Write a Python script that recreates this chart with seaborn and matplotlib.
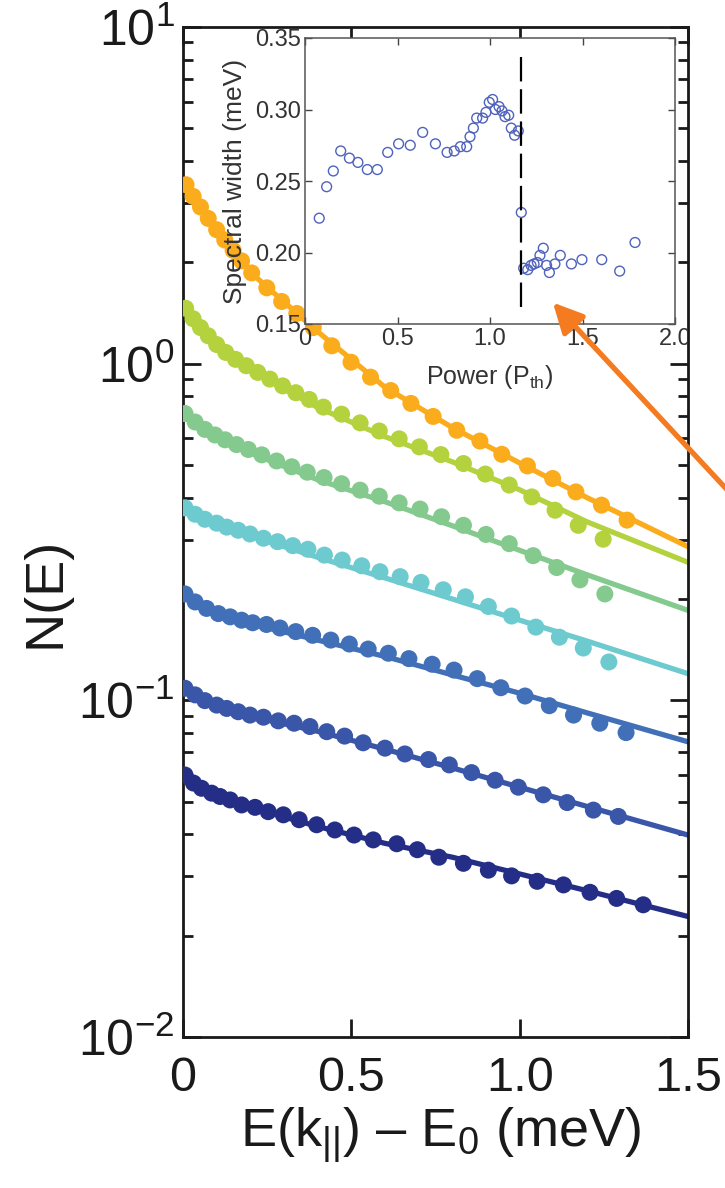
import numpy as np
import pandas as pd
import matplotlib
matplotlib.use("Agg")
import matplotlib.pyplot as plt
import seaborn as sns
from matplotlib.ticker import LogLocator, FixedLocator, FixedFormatter, NullFormatter

sns.set_theme(style="ticks")
plt.rcParams["font.family"] = ["Liberation Sans", "DejaVu Sans"]
plt.rcParams["mathtext.fontset"] = "custom"
plt.rcParams["mathtext.default"] = "regular"

# ---------------- main panel: occupation N(E) for increasing pump power ----------------
E_FIT = [0.0, 0.05, 0.1, 0.2, 0.4, 0.6, 0.8, 1.0, 1.2, 1.5]

orange_E = [0.009, 0.030, 0.052, 0.075, 0.100, 0.124, 0.149, 0.174, 0.204, 0.249, 0.293, 0.338, 0.387, 0.442,
            0.499, 0.557, 0.617, 0.677, 0.743, 0.813, 0.882, 0.947, 1.023, 1.098, 1.167, 1.243, 1.319]
orange_N = [3.40, 3.14, 2.92, 2.70, 2.50, 2.33, 2.17, 2.02, 1.86, 1.68, 1.53, 1.41, 1.28, 1.13,
            1.01, 0.912, 0.832, 0.762, 0.697, 0.634, 0.589, 0.538, 0.497, 0.456, 0.416, 0.380, 0.343]
orange_fit = [3.55, 2.95, 2.51, 1.87, 1.245, 0.851, 0.646, 0.507, 0.400, 0.286]

lime_E = [0.008, 0.030, 0.052, 0.075, 0.100, 0.127, 0.156, 0.188, 0.222, 0.258, 0.296, 0.335, 0.375, 0.417,
          0.471, 0.526, 0.583, 0.642, 0.702, 0.766, 0.833, 0.898, 0.969, 1.036, 1.105, 1.174, 1.248]
lime_N = [1.46, 1.36, 1.28, 1.21, 1.14, 1.08, 1.03, 0.986, 0.942, 0.900, 0.859, 0.820, 0.783, 0.743,
          0.708, 0.667, 0.631, 0.598, 0.566, 0.537, 0.505, 0.470, 0.436, 0.402, 0.367, 0.331, 0.301]
lime_fit = [1.48, 1.29, 1.135, 0.955, 0.741, 0.607, 0.511, 0.422, 0.339, 0.257]

green_E = [0.006, 0.036, 0.065, 0.095, 0.125, 0.159, 0.194, 0.234, 0.278, 0.323, 0.369, 0.419, 0.471,
           0.526, 0.583, 0.642, 0.704, 0.768, 0.833, 0.900, 0.969, 1.040, 1.110, 1.179, 1.253]
green_N = [0.711, 0.671, 0.638, 0.614, 0.594, 0.575, 0.556, 0.536, 0.514, 0.494, 0.476, 0.459, 0.440,
           0.421, 0.404, 0.386, 0.370, 0.351, 0.331, 0.311, 0.292, 0.269, 0.248, 0.228, 0.207]
green_fit = [0.719, 0.661, 0.617, 0.543, 0.452, 0.389, 0.330, 0.279, 0.236, 0.185]

cyan_E = [0.006, 0.036, 0.065, 0.100, 0.130, 0.164, 0.199, 0.239, 0.281, 0.326, 0.371, 0.420, 0.473,
          0.531, 0.585, 0.645, 0.707, 0.773, 0.839, 0.907, 0.976, 1.048, 1.118, 1.189, 1.265]
cyan_N = [0.373, 0.357, 0.345, 0.336, 0.327, 0.320, 0.312, 0.303, 0.296, 0.288, 0.281, 0.270, 0.261,
          0.251, 0.241, 0.233, 0.224, 0.213, 0.203, 0.190, 0.178, 0.165, 0.154, 0.143, 0.130]
cyan_fit = [0.372, 0.345, 0.331, 0.308, 0.266, 0.231, 0.200, 0.173, 0.150, 0.120]

blue_E = [0.006, 0.036, 0.070, 0.105, 0.140, 0.174, 0.207, 0.248, 0.288, 0.335, 0.385, 0.439, 0.494,
          0.550, 0.610, 0.671, 0.740, 0.805, 0.874, 0.944, 1.016, 1.088, 1.160, 1.238, 1.316]
blue_N = [0.207, 0.196, 0.1875, 0.181, 0.177, 0.173, 0.170, 0.168, 0.164, 0.160, 0.156, 0.151, 0.147,
          0.142, 0.138, 0.133, 0.128, 0.123, 0.116, 0.109, 0.103, 0.0964, 0.0904, 0.0855, 0.0802]
blue_fit = [0.209, 0.193, 0.183, 0.169, 0.151, 0.135, 0.119, 0.105, 0.0918, 0.0753]

indigo_E = [0.006, 0.036, 0.065, 0.100, 0.130, 0.164, 0.199, 0.239, 0.283, 0.330, 0.377, 0.427, 0.480,
            0.535, 0.600, 0.659, 0.729, 0.791, 0.857, 0.927, 0.996, 1.070, 1.141, 1.219, 1.293]
indigo_N = [0.1086, 0.1038, 0.0998, 0.0968, 0.0946, 0.0925, 0.0904, 0.0891, 0.0869, 0.0855, 0.0836, 0.0807,
            0.0783, 0.0748, 0.0721, 0.0693, 0.0667, 0.0643, 0.0610, 0.0579, 0.0552, 0.0524, 0.0497, 0.0472, 0.0452]
indigo_fit = [0.1091, 0.1019, 0.0968, 0.0897, 0.0809, 0.0716, 0.0630, 0.0552, 0.0484, 0.0398]

navy_E = [0.006, 0.031, 0.055, 0.085, 0.110, 0.140, 0.174, 0.214, 0.253, 0.298, 0.345, 0.397, 0.451,
          0.508, 0.565, 0.635, 0.696, 0.760, 0.833, 0.907, 0.976, 1.052, 1.130, 1.209, 1.288, 1.367]
navy_N = [0.0600, 0.0568, 0.0548, 0.0530, 0.0518, 0.0506, 0.0489, 0.0481, 0.0467, 0.0457, 0.0442, 0.0427, 0.0412,
          0.0398, 0.0385, 0.0375, 0.0360, 0.0342, 0.0328, 0.0313, 0.0301, 0.0290, 0.0283, 0.0269, 0.0258, 0.0247]
navy_fit = [0.0603, 0.0552, 0.0521, 0.0481, 0.0422, 0.0376, 0.0342, 0.0305, 0.0272, 0.0228]

SERIES = ["navy", "indigo", "blue", "cyan", "green", "lime", "orange"]
COLORS = {"orange": "#FAAC1C", "lime": "#B3D23E", "green": "#84C98D", "cyan": "#6DCACF",
          "blue": "#4170B8", "indigo": "#3A56A8", "navy": "#252E87"}
dots = {"orange": (orange_E, orange_N), "lime": (lime_E, lime_N), "green": (green_E, green_N),
        "cyan": (cyan_E, cyan_N), "blue": (blue_E, blue_N), "indigo": (indigo_E, indigo_N),
        "navy": (navy_E, navy_N)}
fits = {"orange": orange_fit, "lime": lime_fit, "green": green_fit, "cyan": cyan_fit,
        "blue": blue_fit, "indigo": indigo_fit, "navy": navy_fit}

dot_df = pd.concat([pd.DataFrame({"E": dots[s][0], "N": dots[s][1], "series": s}) for s in SERIES],
                   ignore_index=True)
fit_df = pd.concat([pd.DataFrame({"E": E_FIT, "N": fits[s], "series": s}) for s in SERIES],
                   ignore_index=True)

# ---------------- inset: spectral width versus pump power ----------------
power = [0.077, 0.117, 0.153, 0.193, 0.240, 0.286, 0.337, 0.391, 0.447, 0.506, 0.569, 0.636, 0.705,
         0.768, 0.807, 0.840, 0.874, 0.892, 0.910, 0.928, 0.960, 0.978, 0.996, 1.014, 1.029, 1.049,
         1.065, 1.081, 1.101, 1.115, 1.133, 1.153, 1.169, 1.182, 1.204, 1.222, 1.238, 1.256, 1.270,
         1.288, 1.306, 1.321, 1.351, 1.380, 1.440, 1.497, 1.604, 1.701, 1.784]
width = [0.224, 0.246, 0.257, 0.271, 0.266, 0.263, 0.258, 0.258, 0.270, 0.276, 0.275, 0.284, 0.276,
         0.270, 0.271, 0.274, 0.274, 0.281, 0.287, 0.294, 0.294, 0.298, 0.305, 0.307, 0.300, 0.302,
         0.299, 0.295, 0.296, 0.287, 0.282, 0.285, 0.228, 0.189, 0.188, 0.191, 0.192, 0.193, 0.198,
         0.203, 0.191, 0.186, 0.192, 0.198, 0.192, 0.195, 0.195, 0.187, 0.207]
threshold_power = 1.17
threshold_span = (0.162, 0.338)
inset_df = pd.DataFrame({"power": power, "width": width})

# arrow from the right margin into the inset, pointing at the condensed regime
arrow_tip = (1.34, 0.165)       # inset data coordinates
arrow_tail = (1.64, 0.398)      # main-panel data coordinates

INK = "#1a1a1a"

fig = plt.figure(figsize=(7.25, 11.88), dpi=100)
W, H = 725.0, 1188.0
ax = fig.add_axes([183 / W, 1 - 1037 / H, 505 / W, 1010 / H])

sns.lineplot(data=fit_df, x="E", y="N", hue="series", hue_order=SERIES, palette=COLORS,
             estimator=None, sort=False, linewidth=3.8, legend=False, ax=ax)
sns.scatterplot(data=dot_df, x="E", y="N", hue="series", hue_order=SERIES, palette=COLORS,
                s=150, linewidth=0, alpha=1, legend=False, ax=ax, zorder=3)

ax.set_yscale("log")
ax.set_xlim(0, 1.5)
ax.set_ylim(1e-2, 1e1)
ax.xaxis.set_major_locator(FixedLocator([0, 0.5, 1.0, 1.5]))
ax.xaxis.set_major_formatter(FixedFormatter(["0", "0.5", "1.0", "1.5"]))
ax.yaxis.set_major_locator(LogLocator(base=10, numticks=10))
ax.yaxis.set_minor_locator(LogLocator(base=10, subs=np.arange(2, 10), numticks=20))
ax.yaxis.set_minor_formatter(NullFormatter())
ax.tick_params(which="both", direction="in", top=True, right=True, colors=INK, width=2)
ax.tick_params(which="major", length=13)
ax.tick_params(axis="x", which="major", pad=14, labelsize=35)
ax.tick_params(axis="y", which="major", pad=6, labelsize=36)
ax.tick_params(which="minor", length=7)
for sp in ax.spines.values():
    sp.set_linewidth(2)
    sp.set_color(INK)
ax.set_xlabel("E(k$_{||}$) – E$_0$ (meV)", fontsize=39, color=INK, va="top")
ax.set_ylabel("N(E)", fontsize=39, color=INK)
ax.xaxis.set_label_coords(0.51, -0.068)
ax.yaxis.set_label_coords(-0.222, 0.44)

# inset
axin = fig.add_axes([305 / W, 1 - 324 / H, 370 / W, 286 / H], zorder=5)
axin.set_facecolor("white")
sns.scatterplot(data=inset_df, x="power", y="width", marker="o", s=50, facecolors="none",
                edgecolor="#4F62BC", linewidth=1.0, legend=False, ax=axin)
axin.vlines(threshold_power, *threshold_span, colors="black", linewidth=1.6,
            linestyles=(0, (11, 3.5)))
axin.set_xlim(0, 2.0)
axin.set_ylim(0.15, 0.35)
axin.xaxis.set_major_locator(FixedLocator([0, 0.5, 1.0, 1.5, 2.0]))
axin.xaxis.set_major_formatter(FixedFormatter(["0", "0.5", "1.0", "1.5", "2.0"]))
axin.yaxis.set_major_locator(FixedLocator([0.15, 0.20, 0.25, 0.30, 0.35]))
axin.yaxis.set_major_formatter(FixedFormatter(["0.15", "0.20", "0.25", "0.30", "0.35"]))
axin.tick_params(which="major", direction="in", top=True, right=True, length=5, width=1,
                 colors="#444444", labelcolor="#333333", labelsize=17, pad=3)
for sp in axin.spines.values():
    sp.set_linewidth(1.1)
    sp.set_color("#555555")
axin.set_xlabel("Power (P$_{th}$)", fontsize=18, color="#333333", labelpad=9)
axin.set_ylabel("Spectral width (meV)", fontsize=19, color="#333333", labelpad=6)

# the rightmost inset tick label is cut by the main frame
for lbl in axin.get_xticklabels():
    lbl.set_clip_box(ax.bbox)
    lbl.set_clip_on(True)

axin.annotate("", xy=arrow_tip, xycoords="data", xytext=arrow_tail, textcoords=ax.transData,
              arrowprops=dict(arrowstyle="-|>,head_length=0.9,head_width=0.45", color="#F47B20",
                              lw=3.8, mutation_scale=20, shrinkA=0, shrinkB=0),
              annotation_clip=False)

fig.savefig("out.png", dpi=100)
